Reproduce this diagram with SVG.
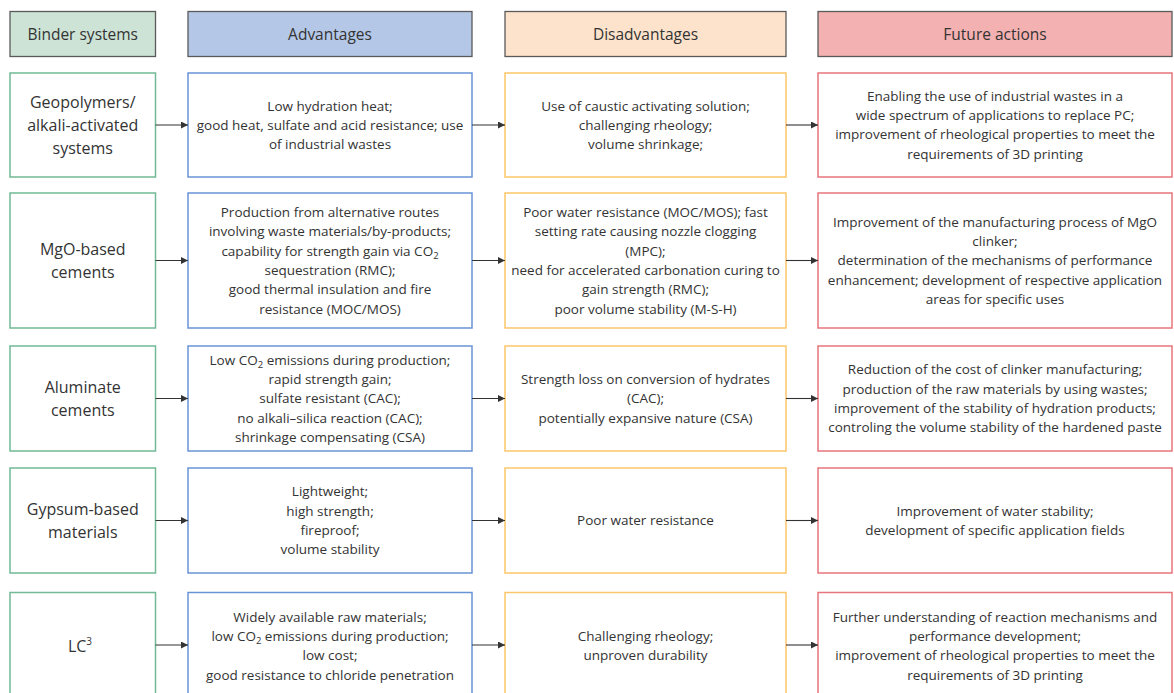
<svg xmlns="http://www.w3.org/2000/svg" width="1174" height="693" viewBox="0 0 1174 693">
<defs>
<marker id="ah" viewBox="0 0 10 10" refX="10" refY="5" markerWidth="7" markerHeight="7" markerUnits="userSpaceOnUse" orient="auto">
<path d="M0,0 L10,5 L0,10 z" fill="#333"/>
</marker>
<style>
.hd{stroke:#5a5a5a;stroke-width:1.3}
.hg{fill:#cde3d6}.hb{fill:#b5c7e7}.ho{fill:#fde3cb}.hr{fill:#f4b1b1}
.bx{fill:#fff;stroke-width:1.5}
.g{stroke:#72b995}.b{stroke:#6a93d6}.o{stroke:#fcc66a}.r{stroke:#e8757d}
text{font-family:"Open Sans","Noto Sans",sans-serif;fill:#333;text-anchor:middle}
.t{font-size:13.5px}
.bt{font-size:16px}
.ht{font-size:15.5px}
.cn{stroke:#333;stroke-width:1.1;fill:none;marker-end:url(#ah)}
</style>
</defs>
<rect width="1174" height="693" fill="#fff"/>
<g id="headers">
<g id="h-binder"><rect class="hd hg" x="10" y="11.5" width="145.5" height="45"/><text class="ht" x="82.75" y="39.5">Binder systems</text></g>
<g id="h-adv"><rect class="hd hb" x="188" y="11.5" width="284" height="45"/><text class="ht" x="330" y="39.5">Advantages</text></g>
<g id="h-dis"><rect class="hd ho" x="505" y="11.5" width="281" height="45"/><text class="ht" x="645.5" y="39.5">Disadvantages</text></g>
<g id="h-fut"><rect class="hd hr" x="818" y="11.5" width="354" height="45"/><text class="ht" x="995" y="39.5">Future actions</text></g>
</g>
<g id="row1">
<g id="r1-binder"><rect class="bx g" x="10" y="73" width="145.5" height="104"/><text class="bt"><tspan x="82.75" y="108">Geopolymers/</tspan><tspan x="82.75" y="131">alkali-activated</tspan><tspan x="82.75" y="154">systems</tspan></text></g>
<g id="r1-adv"><rect class="bx b" x="188" y="73" width="284" height="104"/><text class="t"><tspan x="330" y="110.5">Low hydration heat;</tspan><tspan x="330" y="129.8">good heat, sulfate and acid resistance; use</tspan><tspan x="330" y="149.1">of industrial wastes</tspan></text></g>
<g id="r1-dis"><rect class="bx o" x="505" y="73" width="281" height="104"/><text class="t"><tspan x="645.5" y="110.5">Use of caustic activating solution;</tspan><tspan x="645.5" y="129.8">challenging rheology;</tspan><tspan x="645.5" y="149.1">volume shrinkage;</tspan></text></g>
<g id="r1-fut"><rect class="bx r" x="818" y="73" width="354" height="104"/><text class="t"><tspan x="995" y="100.85">Enabling the use of industrial wastes in a</tspan><tspan x="995" y="120.15">wide spectrum of applications to replace PC;</tspan><tspan x="995" y="139.45">improvement of rheological properties to meet the</tspan><tspan x="995" y="158.75">requirements of 3D printing</tspan></text></g>
</g>
<g id="row2">
<g id="r2-binder"><rect class="bx g" x="10" y="193" width="145.5" height="135"/><text class="bt"><tspan x="82.75" y="255">MgO-based</tspan><tspan x="82.75" y="278">cements</tspan></text></g>
<g id="r2-adv"><rect class="bx b" x="188" y="193" width="284" height="135"/><text class="t"><tspan x="330" y="217.05">Production from alternative routes</tspan><tspan x="330" y="236.35">involving waste materials/by-products;</tspan><tspan x="330" y="255.65">capability for strength gain via CO<tspan font-size="9.5" dy="3">2</tspan></tspan><tspan x="330" y="274.95">sequestration (RMC);</tspan><tspan x="330" y="294.25">good thermal insulation and fire</tspan><tspan x="330" y="313.55">resistance (MOC/MOS)</tspan></text></g>
<g id="r2-dis"><rect class="bx o" x="505" y="193" width="281" height="135"/><text class="t"><tspan x="645.5" y="217.05">Poor water resistance (MOC/MOS); fast</tspan><tspan x="645.5" y="236.35">setting rate causing nozzle clogging</tspan><tspan x="645.5" y="255.65">(MPC);</tspan><tspan x="645.5" y="274.95">need for accelerated carbonation curing to</tspan><tspan x="645.5" y="294.25">gain strength (RMC);</tspan><tspan x="645.5" y="313.55">poor volume stability (M-S-H)</tspan></text></g>
<g id="r2-fut"><rect class="bx r" x="818" y="193" width="354" height="135"/><text class="t"><tspan x="995" y="226.7">Improvement of the manufacturing process of MgO</tspan><tspan x="995" y="246">clinker;</tspan><tspan x="995" y="265.3">determination of the mechanisms of performance</tspan><tspan x="995" y="284.6">enhancement; development of respective application</tspan><tspan x="995" y="303.9">areas for specific uses</tspan></text></g>
</g>
<g id="row3">
<g id="r3-binder"><rect class="bx g" x="10" y="346" width="145.5" height="105"/><text class="bt"><tspan x="82.75" y="393">Aluminate</tspan><tspan x="82.75" y="416">cements</tspan></text></g>
<g id="r3-adv"><rect class="bx b" x="188" y="346" width="284" height="105"/><text class="t"><tspan x="330" y="364.7">Low CO<tspan font-size="9.5" dy="3">2</tspan><tspan dy="-3"> emissions during production;</tspan></tspan><tspan x="330" y="384">rapid strength gain;</tspan><tspan x="330" y="403.3">sulfate resistant (CAC);</tspan><tspan x="330" y="422.6">no alkali–silica reaction (CAC);</tspan><tspan x="330" y="441.9">shrinkage compensating (CSA)</tspan></text></g>
<g id="r3-dis"><rect class="bx o" x="505" y="346" width="281" height="105"/><text class="t"><tspan x="645.5" y="384">Strength loss on conversion of hydrates</tspan><tspan x="645.5" y="403.3">(CAC);</tspan><tspan x="645.5" y="422.6">potentially expansive nature (CSA)</tspan></text></g>
<g id="r3-fut"><rect class="bx r" x="818" y="346" width="354" height="105"/><text class="t"><tspan x="995" y="374.35">Reduction of the cost of clinker manufacturing;</tspan><tspan x="995" y="393.65">production of the raw materials by using wastes;</tspan><tspan x="995" y="412.95">improvement of the stability of hydration products;</tspan><tspan x="995" y="432.25">controling the volume stability of the hardened paste</tspan></text></g>
</g>
<g id="row4">
<g id="r4-binder"><rect class="bx g" x="10" y="468" width="145.5" height="105"/><text class="bt"><tspan x="82.75" y="515">Gypsum-based</tspan><tspan x="82.75" y="538">materials</tspan></text></g>
<g id="r4-adv"><rect class="bx b" x="188" y="468" width="284" height="105"/><text class="t"><tspan x="330" y="496.35">Lightweight;</tspan><tspan x="330" y="515.65">high strength;</tspan><tspan x="330" y="534.95">fireproof;</tspan><tspan x="330" y="554.25">volume stability</tspan></text></g>
<g id="r4-dis"><rect class="bx o" x="505" y="468" width="281" height="105"/><text class="t"><tspan x="645.5" y="525.3">Poor water resistance</tspan></text></g>
<g id="r4-fut"><rect class="bx r" x="818" y="468" width="354" height="105"/><text class="t"><tspan x="995" y="515.65">Improvement of water stability;</tspan><tspan x="995" y="534.95">development of specific application fields</tspan></text></g>
</g>
<g id="row5">
<g id="r5-binder"><rect class="bx g" x="10" y="592.5" width="145.5" height="110"/><text class="bt"><tspan x="80" y="651.5">LC<tspan font-size="10" dy="-7">3</tspan></tspan></text></g>
<g id="r5-adv"><rect class="bx b" x="188" y="592.5" width="284" height="110"/><text class="t"><tspan x="330" y="621.85">Widely available raw materials;</tspan><tspan x="330" y="641.15">low CO<tspan font-size="9.5" dy="3">2</tspan><tspan dy="-3"> emissions during production;</tspan></tspan><tspan x="330" y="660.45">low cost;</tspan><tspan x="330" y="679.75">good resistance to chloride penetration</tspan></text></g>
<g id="r5-dis"><rect class="bx o" x="505" y="592.5" width="281" height="110"/><text class="t"><tspan x="645.5" y="641.15">Challenging rheology;</tspan><tspan x="645.5" y="660.45">unproven durability</tspan></text></g>
<g id="r5-fut"><rect class="bx r" x="818" y="592.5" width="354" height="110"/><text class="t"><tspan x="995" y="621.85">Further understanding of reaction mechanisms and</tspan><tspan x="995" y="641.15">performance development;</tspan><tspan x="995" y="660.45">improvement of rheological properties to meet the</tspan><tspan x="995" y="679.75">requirements of 3D printing</tspan></text></g>
</g>
<g id="connectors">
<path class="cn" d="M155.5,125H188"/><path class="cn" d="M472,125H505"/><path class="cn" d="M786,125H818"/>
<path class="cn" d="M155.5,260.5H188"/><path class="cn" d="M472,260.5H505"/><path class="cn" d="M786,260.5H818"/>
<path class="cn" d="M155.5,398.5H188"/><path class="cn" d="M472,398.5H505"/><path class="cn" d="M786,398.5H818"/>
<path class="cn" d="M155.5,520.5H188"/><path class="cn" d="M472,520.5H505"/><path class="cn" d="M786,520.5H818"/>
<path class="cn" d="M155.5,645H188"/><path class="cn" d="M472,645H505"/><path class="cn" d="M786,645H818"/>
</g>
</svg>
